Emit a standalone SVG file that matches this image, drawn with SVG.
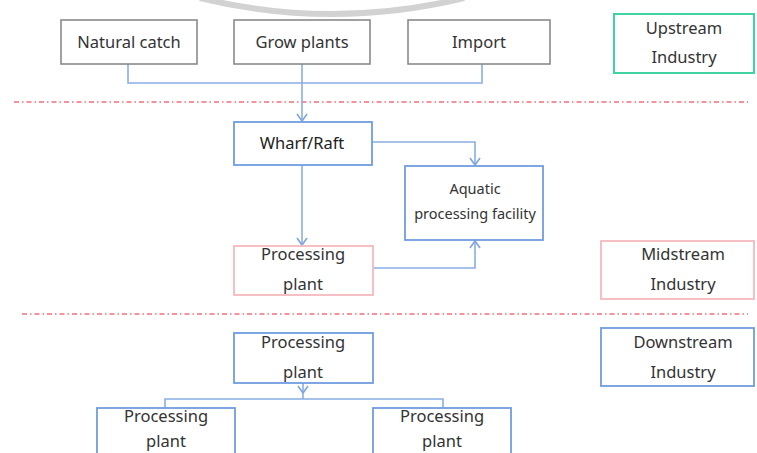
<svg xmlns="http://www.w3.org/2000/svg" width="757" height="453" viewBox="0 0 757 453">
  <defs>
    <!-- open chevron arrowhead, pointing along the path direction -->
    <marker id="chev" viewBox="0 0 10 12" refX="8" refY="6" markerWidth="10" markerHeight="12" markerUnits="userSpaceOnUse" orient="auto">
      <path d="M1,1 L8,6 L1,11" fill="none" stroke="#7fa6e0" stroke-width="1.6"/>
    </marker>
    <style>
      text { font-family: "Noto Sans", "Open Sans", sans-serif; fill: #333; text-anchor: middle; }
      .t15 { font-size: 16.5px; }
      .t13 { font-size: 14.5px; }
      .gray { fill: #fff; stroke: #8a8a8a; stroke-width: 1.6; }
      .blue { fill: #fff; stroke: #6f9de0; stroke-width: 1.8; }
      .pink { fill: #fff; stroke: #f5b9bd; stroke-width: 1.8; }
      .green { fill: #fff; stroke: #3fd3a2; stroke-width: 2; }
      .conn { fill: none; stroke: #8aaee3; stroke-width: 1.6; }
      .divider { fill: none; stroke: #f2707c; stroke-width: 1.6; stroke-dasharray: 5 3 1.5 3; }
    </style>
  </defs>

  <rect width="757" height="453" fill="#fff"/>

  <!-- grey ring segment along the top edge -->
  <path d="M200,-2 Q331,30 464,-2" fill="none" stroke="#d2d2d2" stroke-width="6"/>

  <!-- level dividers -->
  <line class="divider" x1="14" y1="102" x2="748" y2="102"/>
  <line class="divider" x1="22" y1="314" x2="748" y2="314"/>

  <g id="connectors">
    <path class="conn" d="M128,64 V83 H482 V64"/>
    <path class="conn" d="M302,64 V121" marker-end="url(#chev)"/>
    <path class="conn" d="M372,142 H475 V165" marker-end="url(#chev)"/>
    <path class="conn" d="M302,165 V245" marker-end="url(#chev)"/>
    <path class="conn" d="M373,268 H475 V241" marker-end="url(#chev)"/>
    <path class="conn" d="M303,383 V393" marker-end="url(#chev)"/>
    <path class="conn" d="M303,393 V399"/>
    <path class="conn" d="M165,408 V399 H443 V408"/>
  </g>

  <g id="natural-catch">
    <rect class="gray" x="61" y="20" width="136" height="44"/>
    <text class="t15" x="129" y="48">Natural catch</text>
  </g>
  <g id="grow-plants">
    <rect class="gray" x="234" y="20" width="136" height="44"/>
    <text class="t15" x="302" y="48">Grow plants</text>
  </g>
  <g id="import">
    <rect class="gray" x="408" y="20" width="142" height="44"/>
    <text class="t15" x="479" y="48">Import</text>
  </g>
  <g id="upstream-industry">
    <rect class="green" x="614" y="14" width="140" height="59"/>
    <text class="t15" x="684" y="34">Upstream</text>
    <text class="t15" x="684" y="63">Industry</text>
  </g>

  <g id="wharf-raft">
    <rect class="blue" x="234" y="122" width="138" height="43"/>
    <text class="t15" x="302" y="149" style="fill:#222">Wharf/Raft</text>
  </g>
  <g id="aquatic-processing-facility">
    <rect class="blue" x="405" y="166" width="138" height="74"/>
    <text class="t13" x="475" y="194">Aquatic</text>
    <text class="t13" x="475" y="219">processing facility</text>
  </g>
  <g id="processing-plant-mid">
    <rect class="pink" x="234" y="246" width="139" height="49"/>
    <text class="t15" x="303" y="260">Processing</text>
    <text class="t15" x="303" y="290">plant</text>
  </g>
  <g id="midstream-industry">
    <rect class="pink" x="601" y="241" width="153" height="58"/>
    <text class="t15" x="683" y="260">Midstream</text>
    <text class="t15" x="683" y="290">Industry</text>
  </g>

  <g id="processing-plant-down">
    <rect class="blue" x="234" y="333" width="139" height="50"/>
    <text class="t15" x="303" y="348">Processing</text>
    <text class="t15" x="303" y="378">plant</text>
  </g>
  <g id="downstream-industry">
    <rect class="blue" x="601" y="328" width="153" height="58"/>
    <text class="t15" x="683" y="348">Downstream</text>
    <text class="t15" x="683" y="378">Industry</text>
  </g>
  <g id="processing-plant-left">
    <rect class="blue" x="97" y="408" width="138" height="60"/>
    <text class="t15" x="166" y="422">Processing</text>
    <text class="t15" x="166" y="447">plant</text>
  </g>
  <g id="processing-plant-right">
    <rect class="blue" x="373" y="408" width="138" height="60"/>
    <text class="t15" x="442" y="422">Processing</text>
    <text class="t15" x="442" y="447">plant</text>
  </g>
</svg>
